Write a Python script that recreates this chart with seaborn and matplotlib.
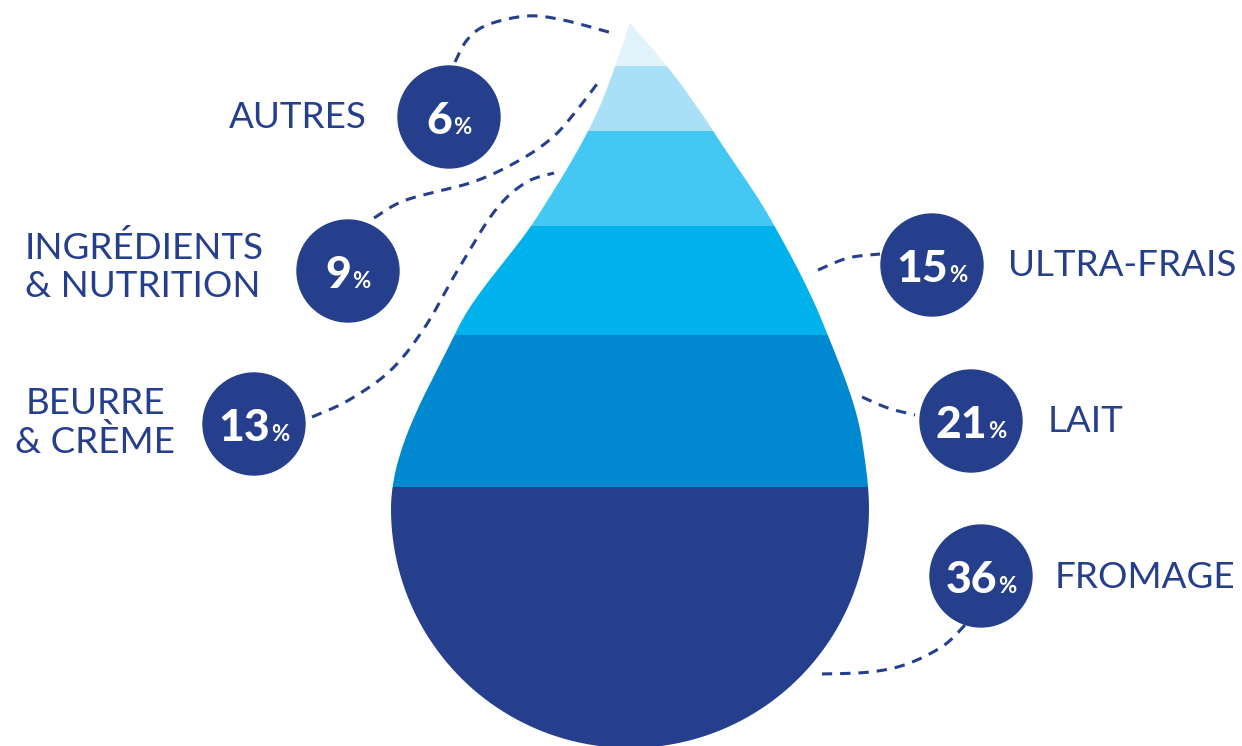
import numpy as np
import matplotlib
matplotlib.use("Agg")
import matplotlib.pyplot as plt
from matplotlib.path import Path
from matplotlib.patches import PathPatch, Circle
import seaborn as sns

# categories from the tip of the drop down to the bottom
categories = ["AUTRES", "INGRÉDIENTS\n& NUTRITION", "BEURRE\n& CRÈME",
              "ULTRA-FRAIS", "LAIT", "FROMAGE"]
shares = [6, 9, 13, 15, 21, 36]
band_colors = ["#e0f2fa", "#aadff8", "#42c8f2", "#00b2ec", "#0089d1", "#263f8d"]

navy = "#263f8d"

sns.set_style("white")
plt.rcParams["font.family"] = ["Lato", "DejaVu Sans"]

fig = plt.figure(figsize=(12.42, 7.46), dpi=100)
ax = fig.add_axes([0, 0, 1, 1])
ax.set_xlim(0, 1242)
ax.set_ylim(746, 0)
ax.axis("off")


def smooth(pts, n=30):
    # catmull-rom through the given points (for the dashed connectors)
    p = np.asarray(pts, float)
    p = np.vstack([p[0], p, p[-1]])
    out = []
    t = np.linspace(0, 1, n, endpoint=False)[:, None]
    for i in range(1, len(p) - 2):
        p0, p1, p2, p3 = p[i - 1], p[i], p[i + 1], p[i + 2]
        out.append(0.5 * (2 * p1 + (-p0 + p2) * t
                          + (2 * p0 - 5 * p1 + 4 * p2 - p3) * t ** 2
                          + (-p0 + 3 * p1 - 3 * p2 + p3) * t ** 3))
    out.append(p[-2][None])
    return np.vstack(out)


def pchip(ys, xs, yq, end_slope=0.0):
    # monotone hermite x(y), slope forced at the last knot
    ys, xs = np.asarray(ys, float), np.asarray(xs, float)
    h = np.diff(ys)
    d = np.diff(xs) / h
    m = np.zeros_like(xs)
    m[0] = d[0]
    for i in range(1, len(xs) - 1):
        if d[i - 1] * d[i] > 0:
            m[i] = 2 / (1 / d[i - 1] + 1 / d[i])
    m[-1] = end_slope
    k = np.clip(np.searchsorted(ys, yq) - 1, 0, len(h) - 1)
    t = (yq - ys[k]) / h[k]
    h00 = 2 * t**3 - 3 * t**2 + 1
    h10 = t**3 - 2 * t**2 + t
    h01 = -2 * t**3 + 3 * t**2
    h11 = t**3 - t**2
    return h00 * xs[k] + h10 * h[k] * m[k] + h01 * xs[k + 1] + h11 * h[k] * m[k + 1]


# drop outline: concave tip, round belly
tip_x, tip_y = 630, 22.7
cx, cy, r = 630, 509, 239
knots_y = [tip_y, 72.5, 117, 217, 328, cy]
left_x = [tip_x, 613, 595, 537, 458, cx - r]
knots_yr = [tip_y, 72.5, 117, 140, 218, 328, 440, cy]
right_x = [tip_x, 672, 704, 719, 770, 825, 862, cx + r]

yy = np.linspace(tip_y, cy, 300)
left = np.column_stack([pchip(knots_y, left_x, yy), yy])
right = np.column_stack([pchip(knots_yr, right_x, yy), yy])[::-1]
theta = np.linspace(np.pi, 0, 200)
belly = np.column_stack([cx + r * np.cos(theta), cy + r * np.sin(theta)])
outline = np.vstack([left, belly, right])
drop = PathPatch(Path(outline), facecolor="none", edgecolor="none")
ax.add_patch(drop)

# bands stacked from the tip, height proportional to the share
bottom_y = cy + r
scale = (bottom_y - tip_y) / sum(shares)
heights = np.array(shares) * scale
tops = tip_y + np.concatenate([[0], np.cumsum(heights)[:-1]])
bars = ax.bar(cx, heights, bottom=tops, width=520, color=band_colors,
              linewidth=0)
for b in bars:
    b.set_clip_path(drop)

# dashed connectors
connectors = [
    [(455, 62), (467, 40), (487, 25), (527, 16), (563, 20), (612, 33)],
    [(374, 218), (406, 200), (473, 182), (520, 160), (553, 137), (577, 110), (600, 80)],
    [(312, 417), (349, 400), (391, 370), (425, 327), (456, 273), (494, 212),
     (525, 183), (554, 173)],
    [(818, 270), (848, 258), (880, 254)],
    [(862, 397), (888, 408), (915, 415)],
    [(965, 625), (943, 646), (907, 664), (870, 672), (822, 674)],
]
for pts in connectors:
    xy = smooth(pts)
    ax.plot(xy[:, 0], xy[:, 1], color=navy, lw=2.2, ls=(0, (3.4, 2.6)),
            solid_capstyle="butt", zorder=1)

# bubbles and labels
bubbles = [(449, 117), (348, 271), (254, 424), (932, 265), (971, 421), (981, 576)]
labels = [
    dict(x=367, y=118, ha="right"),
    dict(x=25, y=267, ha="left"),
    dict(x=95, y=423, ha="center"),
    dict(x=1008, y=266, ha="left"),
    dict(x=1048, y=421, ha="left"),
    dict(x=1055, y=577, ha="left"),
]

nums, pcts = [], []
for (bx, by), v in zip(bubbles, shares):
    ax.add_patch(Circle((bx, by), 51, color=navy, zorder=3))
    n = ax.text(bx, by + 17, str(v), color="white", fontsize=32,
                fontweight="black", ha="left", va="baseline", zorder=4)
    p = ax.text(bx, by + 17, "%", color="white", fontsize=16,
                fontweight="bold", ha="left", va="baseline", zorder=4)
    nums.append(n)
    pcts.append(p)

for name, kw in zip(categories, labels):
    ax.text(kw["x"], kw["y"], name, color=navy, fontsize=26.5, ha=kw["ha"],
            va="center", multialignment=kw["ha"], linespacing=1.15)

# center each number + % pair in its bubble
fig.canvas.draw()
rend = fig.canvas.get_renderer()
for (bx, by), n, p in zip(bubbles, nums, pcts):
    wn = n.get_window_extent(rend).width
    wp = p.get_window_extent(rend).width
    x0 = bx - (wn + wp + 1) / 2
    n.set_x(x0)
    p.set_x(x0 + wn + 1)

fig.savefig("out.png", dpi=100, facecolor="white")
